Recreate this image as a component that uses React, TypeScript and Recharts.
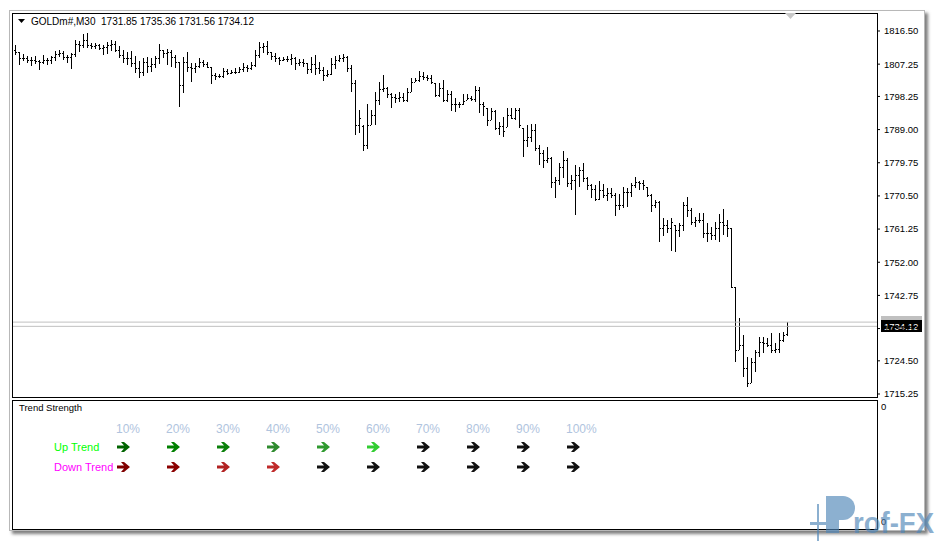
import { ComposedChart, Bar, XAxis, YAxis, ReferenceLine, ScatterChart, Scatter } from "recharts";

// GOLDm#, M30 bars, oldest first
const opens = [
  1811.2, 1810.6, 1809.0, 1809.0, 1808.4, 1808.4, 1808.1, 1807.9, 1808.4, 1808.4,
  1809.3, 1810.1, 1810.4, 1809.3, 1809.3, 1810.1, 1812.9, 1812.6, 1814.0, 1812.6,
  1812.3, 1812.6, 1811.8, 1812.0, 1812.6, 1812.9, 1811.2, 1809.8, 1809.0, 1809.0,
  1807.6, 1806.2, 1805.1, 1807.9, 1806.7, 1807.3, 1809.0, 1811.2, 1810.4, 1810.6,
  1809.3, 1807.9, 1801.4, 1807.9, 1806.5, 1806.2, 1806.7, 1807.9, 1807.3, 1806.5,
  1804.2, 1804.0, 1804.0, 1805.3, 1804.8, 1805.1, 1805.1, 1805.9, 1806.5, 1806.2,
  1807.0, 1809.8, 1812.0, 1812.3, 1810.6, 1809.5, 1809.0, 1808.4, 1808.7, 1808.7,
  1809.0, 1807.6, 1807.9, 1807.6, 1805.9, 1807.3, 1806.2, 1805.6, 1804.2, 1804.5,
  1807.3, 1808.4, 1809.0, 1809.3, 1806.2, 1802.0, 1790.3, 1790.0, 1784.7, 1790.3,
  1793.1, 1797.3, 1800.3, 1800.6, 1798.9, 1798.1, 1797.8, 1798.1, 1797.3, 1799.5,
  1802.3, 1802.8, 1804.0, 1803.7, 1803.4, 1802.0, 1798.6, 1800.6, 1797.3, 1798.9,
  1796.1, 1796.1, 1796.1, 1797.3, 1797.8, 1797.5, 1800.0, 1796.1, 1795.0, 1791.7,
  1794.2, 1789.4, 1790.0, 1789.7, 1793.1, 1792.2, 1794.5, 1789.4, 1786.1, 1786.9,
  1788.9, 1783.9, 1782.5, 1780.5, 1781.1, 1774.4, 1774.9, 1778.6, 1780.5, 1774.1,
  1774.9, 1776.3, 1777.7, 1775.5, 1773.5, 1772.4, 1769.6, 1772.1, 1770.8, 1771.3,
  1770.8, 1768.0, 1768.0, 1771.6, 1771.6, 1773.5, 1774.4, 1774.1, 1773.0, 1770.8,
  1768.0, 1768.8, 1761.5, 1762.4, 1761.5, 1762.4, 1761.0, 1762.4, 1768.0, 1766.6,
  1763.2, 1763.8, 1763.8, 1760.2, 1760.2, 1759.6, 1761.5, 1763.2, 1762.4, 1761.5,
  1745.1, 1727.5, 1728.9, 1722.5, 1718.3, 1724.2, 1727.0, 1729.7, 1729.5, 1728.9,
  1727.5, 1727.8, 1730.3, 1731.85,
];
const highs = [
  1812.6, 1810.6, 1810.1, 1809.5, 1809.3, 1809.5, 1808.4, 1809.8, 1809.0, 1809.5,
  1810.9, 1811.2, 1810.9, 1809.8, 1810.4, 1814.0, 1813.7, 1815.7, 1815.9, 1813.2,
  1813.2, 1812.9, 1812.6, 1813.4, 1814.0, 1813.7, 1812.3, 1811.2, 1810.6, 1810.9,
  1809.5, 1808.1, 1809.0, 1809.3, 1809.0, 1809.5, 1812.9, 1811.2, 1811.5, 1811.2,
  1809.8, 1807.9, 1809.3, 1810.6, 1807.6, 1807.6, 1809.0, 1808.4, 1807.9, 1806.5,
  1804.8, 1804.5, 1806.2, 1805.9, 1805.6, 1806.2, 1806.5, 1807.6, 1807.0, 1807.9,
  1811.2, 1813.4, 1813.2, 1813.7, 1810.6, 1810.4, 1809.3, 1809.3, 1809.5, 1810.1,
  1809.3, 1808.7, 1808.7, 1807.6, 1809.3, 1809.8, 1807.9, 1806.5, 1805.6, 1809.0,
  1809.5, 1809.8, 1810.1, 1809.5, 1807.0, 1802.8, 1794.5, 1790.3, 1796.1, 1794.5,
  1799.5, 1802.3, 1804.2, 1800.9, 1799.2, 1798.9, 1799.5, 1799.2, 1800.6, 1803.4,
  1803.4, 1805.3, 1805.1, 1804.2, 1804.2, 1802.0, 1802.0, 1802.8, 1800.0, 1799.8,
  1797.8, 1796.7, 1798.9, 1798.9, 1798.4, 1801.2, 1800.9, 1796.7, 1795.0, 1795.0,
  1794.5, 1791.1, 1792.5, 1795.0, 1795.0, 1795.0, 1795.0, 1789.4, 1790.3, 1790.6,
  1790.6, 1784.7, 1783.3, 1784.1, 1781.4, 1775.8, 1779.7, 1783.0, 1781.1, 1776.3,
  1779.1, 1778.6, 1779.7, 1775.8, 1773.8, 1773.5, 1774.7, 1773.8, 1772.7, 1772.7,
  1771.3, 1771.0, 1773.0, 1772.7, 1774.1, 1775.8, 1774.7, 1774.9, 1773.0, 1771.0,
  1769.4, 1769.1, 1764.3, 1763.8, 1764.3, 1762.4, 1762.9, 1768.8, 1770.2, 1767.1,
  1764.6, 1765.7, 1765.7, 1762.9, 1761.8, 1763.2, 1765.5, 1766.9, 1763.8, 1761.5,
  1745.1, 1736.4, 1731.7, 1725.6, 1725.3, 1727.5, 1731.1, 1731.1, 1730.9, 1732.3,
  1729.5, 1732.3, 1732.5, 1735.36,
];
const lows = [
  1809.8, 1807.0, 1808.1, 1807.6, 1806.7, 1807.3, 1805.6, 1807.3, 1807.0, 1807.3,
  1808.1, 1809.3, 1808.4, 1807.6, 1805.9, 1809.3, 1810.6, 1811.8, 1811.8, 1811.5,
  1811.5, 1811.2, 1809.8, 1810.1, 1810.9, 1810.6, 1809.0, 1807.6, 1807.0, 1806.5,
  1804.8, 1803.4, 1804.0, 1804.8, 1805.1, 1806.2, 1807.3, 1809.0, 1807.0, 1806.5,
  1806.2, 1795.3, 1799.2, 1805.1, 1802.3, 1804.8, 1806.2, 1806.5, 1806.2, 1801.7,
  1802.8, 1803.4, 1803.4, 1804.2, 1804.5, 1804.5, 1804.8, 1805.1, 1805.1, 1805.6,
  1806.5, 1809.0, 1810.4, 1809.8, 1808.4, 1807.9, 1807.0, 1808.1, 1807.9, 1807.0,
  1805.6, 1806.7, 1806.5, 1804.5, 1804.8, 1804.2, 1804.5, 1802.6, 1803.7, 1804.2,
  1805.9, 1807.9, 1807.9, 1805.1, 1799.5, 1787.5, 1788.0, 1783.0, 1783.6, 1790.3,
  1790.3, 1795.9, 1799.5, 1797.8, 1795.0, 1796.4, 1796.7, 1796.7, 1796.7, 1799.5,
  1802.3, 1802.3, 1802.8, 1802.6, 1801.7, 1798.1, 1798.1, 1796.7, 1796.7, 1794.2,
  1793.9, 1795.0, 1795.9, 1797.3, 1797.0, 1796.7, 1793.6, 1792.8, 1790.0, 1791.7,
  1788.9, 1787.5, 1786.9, 1789.7, 1792.0, 1791.7, 1789.4, 1781.4, 1784.1, 1785.5,
  1783.0, 1779.1, 1778.3, 1779.7, 1772.7, 1769.9, 1773.5, 1775.5, 1773.0, 1772.1,
  1765.2, 1773.0, 1774.4, 1772.1, 1769.9, 1769.1, 1769.4, 1769.9, 1769.1, 1769.9,
  1764.9, 1766.6, 1767.1, 1767.4, 1770.2, 1772.7, 1772.1, 1772.1, 1770.2, 1766.0,
  1767.1, 1757.6, 1759.3, 1760.2, 1755.1, 1754.9, 1759.0, 1760.7, 1764.6, 1762.4,
  1761.8, 1762.9, 1758.8, 1757.6, 1758.2, 1758.2, 1757.6, 1759.6, 1759.0, 1744.8,
  1724.2, 1727.5, 1720.0, 1717.2, 1718.3, 1721.4, 1725.6, 1726.7, 1728.4, 1726.7,
  1726.7, 1726.7, 1729.7, 1731.56,
];
const closes = [
  1810.6, 1809.0, 1809.0, 1808.4, 1808.4, 1808.1, 1807.9, 1808.4, 1808.4, 1809.3,
  1810.1, 1810.4, 1809.3, 1809.3, 1810.1, 1812.9, 1812.6, 1814.0, 1812.6, 1812.3,
  1812.6, 1811.8, 1812.0, 1812.6, 1812.9, 1811.2, 1809.8, 1809.0, 1809.0, 1807.6,
  1806.2, 1805.1, 1807.9, 1806.7, 1807.3, 1809.0, 1811.2, 1810.4, 1810.6, 1809.3,
  1807.9, 1801.4, 1807.9, 1806.5, 1806.2, 1806.7, 1807.9, 1807.3, 1806.5, 1804.2,
  1804.0, 1804.0, 1805.3, 1804.8, 1805.1, 1805.1, 1805.9, 1806.5, 1806.2, 1807.0,
  1809.8, 1812.0, 1812.3, 1810.6, 1809.5, 1809.0, 1808.4, 1808.7, 1808.7, 1809.0,
  1807.6, 1807.9, 1807.6, 1805.9, 1807.3, 1806.2, 1805.6, 1804.2, 1804.5, 1807.3,
  1808.4, 1809.0, 1809.3, 1806.2, 1802.0, 1790.3, 1792.2, 1784.7, 1790.3, 1793.1,
  1797.3, 1800.3, 1800.6, 1798.9, 1798.1, 1797.8, 1798.1, 1797.3, 1799.5, 1802.3,
  1802.8, 1804.0, 1803.7, 1803.4, 1802.3, 1798.6, 1800.6, 1797.3, 1798.9, 1796.1,
  1796.1, 1796.1, 1797.0, 1797.8, 1797.5, 1800.0, 1796.1, 1795.6, 1791.7, 1794.2,
  1789.4, 1790.0, 1788.6, 1793.1, 1792.2, 1794.5, 1790.3, 1786.1, 1786.9, 1788.9,
  1783.9, 1782.5, 1780.5, 1781.1, 1774.4, 1774.9, 1778.6, 1780.5, 1774.1, 1774.9,
  1776.3, 1777.7, 1775.5, 1773.5, 1772.4, 1769.6, 1772.1, 1770.8, 1771.3, 1770.8,
  1768.0, 1768.0, 1771.6, 1771.6, 1773.5, 1774.4, 1774.1, 1773.5, 1770.8, 1768.0,
  1768.8, 1761.5, 1762.4, 1761.5, 1763.2, 1761.0, 1762.4, 1768.0, 1766.6, 1763.2,
  1763.8, 1763.8, 1760.2, 1760.2, 1759.6, 1761.5, 1763.2, 1762.4, 1761.5, 1745.1,
  1727.5, 1728.9, 1722.5, 1718.3, 1724.2, 1727.0, 1729.7, 1729.5, 1728.9, 1727.5,
  1727.8, 1730.3, 1731.7, 1734.12,
];
const shiftSlots = 22; // empty space right of the last bar (chart shift)

const priceTicks = [1816.5, 1807.25, 1798.25, 1789.0, 1779.75, 1770.5, 1761.25, 1752.0, 1742.75, 1733.5, 1724.5, 1715.25];
const bid = 1734.12;
const ask = 1735.3;

const pctLabels = ["10%", "20%", "30%", "40%", "50%", "60%", "70%", "80%", "90%", "100%"];
const upColors = ["#006400", "#008000", "#0a800a", "#2e8b2e", "#2f9a2f", "#32cd32", "#111", "#111", "#111", "#111"];
const downColors = ["#800000", "#8b0000", "#b22222", "#c02a2a", "#111", "#111", "#111", "#111", "#111", "#111"];
const rowNames = ["Up Trend", "Down Trend"];
const rowColors = ["#00ff00", "#ff00ff"];

const bars = Array.from({ length: highs.length + shiftSlots }, (_, i) =>
  i < highs.length ? { i, o: opens[i], h: highs[i], l: lows[i], c: closes[i] } : { i }
);

const font = "'Liberation Sans', Arial, sans-serif";

function OhlcBar(props: any) {
  const { x, y, width, height, payload } = props;
  if (payload.h == null) return null;
  const top = Math.min(y, y + height);
  const h = Math.abs(height);
  const cx = Math.floor(x + width / 2);
  const span = payload.h - payload.l || 1;
  const yo = top + ((payload.h - payload.o) / span) * h;
  const yc = top + ((payload.h - payload.c) / span) * h;
  return (
    <g fill="#000" shapeRendering="crispEdges">
      <rect x={cx} y={Math.round(top)} width={1} height={Math.max(1, Math.round(h))} />
      <rect x={cx - 1} y={Math.round(yo)} width={1} height={1} />
      <rect x={cx + 1} y={Math.round(yc)} width={1} height={1} />
    </g>
  );
}

function PriceTag(props: any) {
  const { viewBox, text, bg, fg, clipTop } = props;
  if (!viewBox) return null;
  const left = viewBox.x + viewBox.width + 4;
  const y = Math.round(viewBox.y);
  const id = "tag" + text.replace(".", "");
  return (
    <g>
      {clipTop && (
        <defs>
          <clipPath id={id}>
            <rect x={left} y={y - 6} width={41} height={4} />
          </clipPath>
        </defs>
      )}
      <rect x={left} y={y - 6} width={41} height={12} fill={bg} />
      <text x={left + 3} y={y + 4} fill={fg} fontSize={9.5} fontFamily={font} clipPath={clipTop ? `url(#${id})` : undefined}>{text}</text>
    </g>
  );
}

function ArrowMark(props: any) {
  const { cx, cy, payload } = props;
  const x = Math.round(cx);
  const y = Math.round(cy);
  const pts = [[-7, -1.5], [0, -1.5], [-3, -5], [0, -5], [6, 0], [0, 5], [-3, 5], [0, 1.5], [-7, 1.5]]
    .map(([dx, dy]) => `${x + dx},${y + dy}`).join(" ");
  return <polygon points={pts} fill={payload.c} />;
}

function TextMark(props: any) {
  const { cx, cy, payload } = props;
  return (
    <text x={cx} y={cy + 4} fill={payload.c} fontSize={payload.s || 11} fontFamily={font}>{payload.t}</text>
  );
}

export default function App() {
  const upRow = upColors.map((c, i) => ({ x: i, y: 1, c }));
  const downRow = downColors.map((c, i) => ({ x: i, y: 0, c }));
  const pctRow = pctLabels.map((t, i) => ({ x: i - 0.16, y: 1.9, t, c: "#b0c4de", s: 12 }));
  const nameRow = rowNames.map((t, i) => ({ x: -1.4, y: 1 - i, t, c: rowColors[i] }));

  return (
    <div style={{ position: "fixed", left: 0, top: 0, width: 937, height: 541, background: "#fff", overflow: "hidden", fontFamily: font }}>
      {/* terminal window frame */}
      <div style={{ position: "absolute", left: 9, top: 10, width: 914, height: 519, border: "1px solid #b8b8b8", boxShadow: "3px 3px 3px rgba(0,0,0,0.5)" }} />
      {/* main window frame */}
      <div style={{ position: "absolute", left: 12, top: 13, width: 864, height: 383, border: "1px solid #000" }} />
      {/* indicator window frame */}
      <div style={{ position: "absolute", left: 12, top: 400, width: 864, height: 128, border: "1px solid #000" }} />

      <div style={{ position: "absolute", left: 0, top: 0 }}>
        <ComposedChart width={937} height={410} data={bars} margin={{ top: 14, right: 0, bottom: 13, left: 13 }} barCategoryGap={0}>
          <XAxis dataKey="i" type="category" hide />
          <YAxis
            orientation="right"
            width={60}
            domain={[1714.41, 1821.24]}
            ticks={priceTicks}
            interval={0}
            tickFormatter={(v: number) => v.toFixed(2)}
            axisLine={false}
            tickLine={{ stroke: "#000" }}
            tickSize={3}
            tickMargin={4}
            tick={{ fill: "#000", fontSize: 9.5, fontFamily: font }}
          />
          <Bar
            dataKey={(d: any) => (d.h == null ? null : [d.l, d.h])}
            shape={OhlcBar}
            isAnimationActive={false}
          />
          <ReferenceLine y={ask} stroke="#c0c0c0" label={<PriceTag text="1735.30" bg="#c0c0c0" fg="#e8e8e8" clipTop />} />
          <ReferenceLine y={bid} stroke="#c0c0c0" label={<PriceTag text="1734.12" bg="#000" fg="#fff" />} />
        </ComposedChart>
      </div>

      {/* title and chart-shift marker */}
      <svg style={{ position: "absolute", left: 0, top: 0 }} width={937} height={30}>
        <polygon points="18,19 25,19 21.5,23" fill="#000" />
        <polygon points="785,13 796,13 790.5,19" fill="#c8c8c8" />
      </svg>
      <div style={{ position: "absolute", left: 31, top: 16, fontSize: 10, color: "#000", whiteSpace: "pre", lineHeight: "12px" }}>
        {"GOLDm#,M30  1731.85 1735.36 1731.56 1734.12"}
      </div>

      {/* indicator window */}
      <div style={{ position: "absolute", left: 19, top: 402, fontSize: 9.5, color: "#000", lineHeight: "12px" }}>Trend Strength</div>
      <div style={{ position: "absolute", left: 881, top: 401, fontSize: 9.5, color: "#000", lineHeight: "12px" }}>0</div>
      <div style={{ position: "absolute", left: 881, top: 516, fontSize: 9.5, color: "#000", lineHeight: "12px" }}>0</div>
      <div style={{ position: "absolute", left: 0, top: 400 }}>
        <ScatterChart width={937} height={131} margin={{ top: 7, right: 63, bottom: 4, left: 24 }}>
          <XAxis type="number" dataKey="x" domain={[-2, 15]} hide />
          <YAxis type="number" dataKey="y" domain={[-3, 3]} hide />
          <Scatter data={pctRow} shape={TextMark} isAnimationActive={false} />
          <Scatter data={nameRow} shape={TextMark} isAnimationActive={false} />
          <Scatter data={upRow} shape={ArrowMark} isAnimationActive={false} />
          <Scatter data={downRow} shape={ArrowMark} isAnimationActive={false} />
        </ScatterChart>
      </div>

      {/* watermark */}
      <svg style={{ position: "absolute", left: 0, top: 0 }} width={937} height={541}>
        <g fill="#4f86b8" opacity={0.65}>
          <rect x={817} y={504} width={2} height={37} />
          <rect x={810} y={522} width={16} height={3} />
          <rect x={826} y={496} width={13} height={37} />
          <path d="M839,496 h4 a12,12 0 0 1 0,24 h-4 z" />
          <text x={853} y={533} fontSize={29} fontWeight="bold" fontFamily={font} textLength={81} lengthAdjust="spacingAndGlyphs">rof-FX</text>
        </g>
      </svg>
    </div>
  );
}
